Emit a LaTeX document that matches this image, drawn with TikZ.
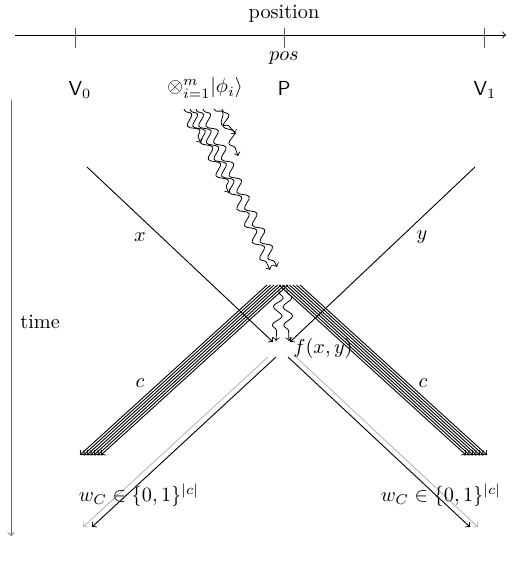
\documentclass[tikz,border=0pt]{standalone}
\usetikzlibrary{decorations.pathmorphing}
\begin{document}
\begin{tikzpicture}[x=0.493pt,y=-0.493pt,
  photon/.style={->,decorate,decoration={snake,segment length=9pt,amplitude=2.3pt,pre length=1pt,post length=2pt}},
  wire/.style={->,line width=0.45pt},
  tick/.style={gray!70!black},
  lbl/.style={inner sep=1pt}]
\useasboundingbox (0,0) rectangle (513,578);
% position axis
\coordinate (ps) at (15,35);
\coordinate (pe) at (506,35);
\draw[->] (ps) -- (pe);
\foreach \x/\n in {75/a,284/b,484/c}{
  \coordinate (t\n1) at (\x,28);
  \coordinate (t\n2) at (\x,48);
  \draw[tick] (t\n1) -- (t\n2);
}
\node[lbl] (position) at (284,14) {position};
\node[lbl] (pos) at (284,58) {$pos$};
\node[lbl] (v0) at (80,90) {\textsf{V}$_0$};
\node[lbl] (phi) at (205,88) {$\otimes_{i=1}^m|\phi_i\rangle$};
\node[lbl] (P) at (284,88) {\textsf{P}};
\node[lbl] (v1) at (485,90) {\textsf{V}$_1$};
% time axis
\coordinate (ts) at (11,100);
\coordinate (te) at (11,536);
\draw[->,gray!80!black] (ts) -- (te);
\node[lbl,anchor=west] (time) at (18,322) {time};
% inputs x and y
\coordinate (xs) at (87,167);
\coordinate (xe) at (273,342);
\coordinate (ys) at (475,167);
\coordinate (ye) at (290,342);
\draw[wire] (xs) -- (xe);
\draw[wire] (ys) -- (ye);
\node[lbl] (xl) at (140,237) {$x$};
\node[lbl] (yl) at (422,237) {$y$};
% photons
\foreach \i/\sx/\ex/\ey in {1/184/201/143, 2/190/229/193, 3/196/270/270, 4/203/277/267, 5/214/236/134, 6/222/238/156}{
  \coordinate (ph\i s) at (\sx,109);
  \coordinate (ph\i e) at (\ex,\ey);
  \draw[photon] (ph\i s) -- (ph\i e);
}
% bundles c
\foreach \k in {0,...,6}{
  \coordinate (lb\k s) at (267+3.5*\k,285);
  \coordinate (lb\k e) at (80+3.5*\k,455);
  \draw[wire] (lb\k s) -- (lb\k e);
  \coordinate (rb\k s) at (279+3.5*\k,285);
  \coordinate (rb\k e) at (466+3.5*\k,455);
  \draw[wire] (rb\k s) -- (rb\k e);
}
\node[lbl] (cl) at (140,383) {$c$};
\node[lbl] (cr) at (423,383) {$c$};
% snakes from apex to f
\coordinate (q1s) at (279,290);
\coordinate (q1e) at (276,341);
\coordinate (q2s) at (287,290);
\coordinate (q2e) at (289,341);
\draw[photon] (q1s) -- (q1e);
\draw[photon] (q2s) -- (q2e);
% f node
\node[lbl,anchor=west] (f) at (291,348) {$f(x,y)$};
% outputs
\coordinate (olg) at (268,357);
\coordinate (olge) at (83,527);
\coordinate (olb) at (276,357);
\coordinate (olbe) at (92,527);
\coordinate (orb) at (288,357);
\coordinate (orbe) at (470,527);
\coordinate (org) at (296,357);
\coordinate (orge) at (478,527);
\draw[wire,gray!55] (olg) -- (olge);
\draw[wire] (olb) -- (olbe);
\draw[wire] (orb) -- (orbe);
\draw[wire,gray!55] (org) -- (orge);
\node[lbl] (wl) at (139,495) {$w_C\in\{0,1\}^{|c|}$};
\node[lbl] (wr) at (441,495) {$w_C\in\{0,1\}^{|c|}$};
\end{tikzpicture}
\end{document}
